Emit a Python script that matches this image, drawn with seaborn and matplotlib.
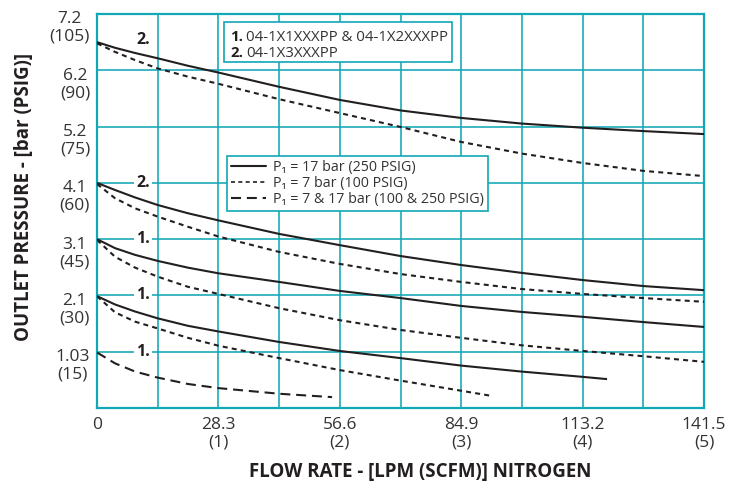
import numpy as np
import pandas as pd
import matplotlib
matplotlib.use("Agg")
import matplotlib.pyplot as plt
import matplotlib.transforms as mtransforms
from matplotlib.lines import Line2D
from matplotlib.patches import Rectangle
import seaborn as sns

# ---------------- data (flow in LPM, outlet pressure in PSIG) ----------------
x_full = [0, 4.2, 8.9, 14.15, 21.2, 28.3, 42.45, 56.6, 70.75, 84.9, 99.05, 113.2, 127.35, 141.5]
top_17 = [97.5, 96.0, 94.6, 93.2, 91.2, 89.4, 85.6, 82.1, 79.3, 77.3, 75.8, 74.7, 73.8, 73.0]
top_7 = [97.2, 94.9, 92.7, 90.5, 88.3, 86.4, 82.3, 78.6, 74.9, 70.9, 67.8, 65.3, 63.2, 61.8]
mid2_17 = [60.0, 58.1, 56.1, 54.1, 51.9, 50.0, 46.4, 43.4, 40.5, 38.1, 36.0, 34.1, 32.5, 31.4]
mid2_7 = [59.7, 55.9, 53.2, 51.0, 48.3, 45.7, 41.6, 38.4, 35.7, 33.6, 31.7, 30.4, 29.3, 28.3]
up1_17 = [45.0, 42.6, 40.8, 39.2, 37.4, 35.9, 33.6, 31.2, 29.3, 27.2, 25.6, 24.3, 22.9, 21.6]
up1_7 = [44.8, 40.3, 37.4, 35.0, 32.3, 30.4, 26.6, 23.4, 20.8, 18.7, 16.7, 15.2, 13.8, 12.3]
x_low17 = [0, 4.2, 8.9, 14.15, 21.2, 28.3, 42.45, 56.6, 70.75, 84.9, 99.05, 113.2, 118.9]
low1_17 = [29.8, 27.6, 25.7, 23.9, 21.9, 20.4, 17.6, 15.2, 13.3, 11.3, 9.7, 8.3, 7.7]
x_low7 = [0, 4.2, 8.9, 14.15, 21.2, 28.3, 42.45, 56.6, 70.75, 84.9, 92.1]
low1_7 = [29.8, 25.5, 23.0, 21.2, 18.7, 16.6, 13.3, 10.1, 7.3, 4.6, 3.2]
x_both = [0, 4.2, 8.9, 14.15, 21.2, 28.3, 42.45, 54.8]
low1_both = [14.8, 11.9, 9.7, 8.1, 6.4, 5.3, 3.8, 2.9]

x_ticks = [0, 28.3, 56.6, 84.9, 113.2, 141.5]
x_ticklabels = ["0", "28.3\n(1)", "56.6\n(2)", "84.9\n(3)", "113.2\n(4)", "141.5\n(5)"]
y_ticks = [15, 30, 45, 60, 75, 90, 105]
y_ticklabels = ["1.03\n(15)", "2.1\n(30)", "3.1\n(45)", "4.1\n(60)",
                "5.2\n(75)", "6.2\n(90)", "7.2\n(105)"]
curve_tags = ["2.", "2.", "1.", "1.", "1."]
curve_tag_y = [98.2, 60, 45, 30, 15]
legend_labels = ["P\u2081 = 17 bar (250 PSIG)", "P\u2081 = 7 bar (100 PSIG)",
                 "P\u2081 = 7 & 17 bar (100 & 250 PSIG)"]
model_nums = ["1.", "2."]
model_names = ["04-1X1XXXPP & 04-1X2XXXPP", "04-1X3XXXPP"]

# ---------------- style ----------------
sns.set_theme(style="white")
plt.rcParams["font.family"] = ["Open Sans", "DejaVu Sans"]
TEAL = "#12a7b6"
INK = "#231f20"
SOLID = None
SHORT = (2.4, 2.0)
LONG = (4.8, 2.8)
LW = 1.5

W, H = 744, 491
fig = plt.figure(figsize=(W / 100, H / 100), dpi=100)
L, R, T, B = 97, 704, 14, 408
ax = fig.add_axes([L / W, (H - B) / H, (R - L) / W, (B - T) / H])

series = [
    (x_full, top_17, SOLID), (x_full, top_7, SHORT),
    (x_full, mid2_17, SOLID), (x_full, mid2_7, SHORT),
    (x_full, up1_17, SOLID), (x_full, up1_7, SHORT),
    (x_low17, low1_17, SOLID), (x_low7, low1_7, SHORT),
    (x_both, low1_both, LONG),
]
for xs, ys, dash in series:
    df = pd.DataFrame({"flow": xs, "psi": ys})
    sns.lineplot(data=df, x="flow", y="psi", ax=ax, color=INK, lw=LW,
                 sort=False, zorder=4)
    line = ax.lines[-1]
    line.set_solid_capstyle("butt")
    line.set_solid_joinstyle("round")
    if dash is not None:
        line.set_dashes(dash)
        line.set_dash_capstyle("butt")

ax.set_xlim(0, 141.5)
ax.set_ylim(0, 105)

# grid
ax.set_xticks(x_ticks)
ax.set_xticks([14.15, 42.45, 70.75, 99.05, 127.35], minor=True)
ax.set_yticks(y_ticks)
ax.grid(True, which="both", axis="x", color=TEAL, lw=1.15, zorder=1)
ax.grid(True, which="major", axis="y", color=TEAL, lw=1.15, zorder=1)
ax.set_axisbelow(True)
for sp in ax.spines.values():
    sp.set_color(TEAL)
    sp.set_linewidth(1.6)
    sp.set_visible(True)
ax.tick_params(which="both", length=0, labelsize=12.5, labelcolor="#333333")
ax.tick_params(axis="x", pad=6.5)
ax.tick_params(axis="y", pad=5)

ax.set_xticklabels(x_ticklabels)
ax.set_yticklabels(y_ticklabels)
for lab in ax.get_xticklabels():
    lab.set_multialignment("center")
    lab.set_linespacing(1.1)
shift = mtransforms.ScaledTranslation(0, 2.5 / 100, fig.dpi_scale_trans)
for lab in ax.get_yticklabels():
    lab.set_va("top")
    lab.set_multialignment("center")
    lab.set_linespacing(1.12)
    lab.set_transform(lab.get_transform() + shift)

# axis titles
ax.set_xlabel("FLOW RATE - [LPM (SCFM)] NITROGEN", fontsize=13.5,
              fontweight="bold", color=INK)
ax.xaxis.set_label_coords(0.532, -0.138)
ax.xaxis.label.set_va("top")
ax.set_ylabel("OUTLET PRESSURE - [bar (PSIG)]", fontsize=13.5,
              fontweight="bold", color=INK)
ax.yaxis.label.set_va("center")
ax.yaxis.set_label_coords(-0.12, 0.535)

# curve tags
for tag, yv in zip(curve_tags, curve_tag_y):
    ax.text(10.7, yv, tag, fontsize=11.5, fontweight="bold", color=INK,
            ha="center", va="center", zorder=6,
            bbox=dict(boxstyle="square,pad=0.12", fc="white", ec="none"))

# model legend box
def fx(px):
    return (px - L) / (R - L)

def fy(py):
    return (B - py) / (B - T)

ax.add_patch(Rectangle((fx(224), fy(62)), fx(452) - fx(224), fy(22) - fy(62),
                       transform=ax.transAxes, fc="white", ec=TEAL, lw=1.2,
                       zorder=7))
for num, name, base in zip(model_nums, model_names, [41, 57]):
    ax.text(fx(230), fy(base), num, transform=ax.transAxes, fontsize=10.8,
            fontweight="bold", color=INK, va="baseline", ha="left", zorder=8)
    ax.text(fx(246), fy(base), name, transform=ax.transAxes, fontsize=10.8,
            color="#333333", va="baseline", ha="left", zorder=8)

# line style legend
handles = [Line2D([], [], color=INK, lw=LW),
           Line2D([], [], color=INK, lw=1.2, dashes=(2.4, 2.0)),
           Line2D([], [], color=INK, lw=LW, dashes=LONG)]
leg = ax.legend(handles, legend_labels, loc="upper left",
                bbox_to_anchor=(fx(227), fy(156)), frameon=True, fancybox=False,
                edgecolor=TEAL, framealpha=1, fontsize=10.3, borderpad=0.3,
                handlelength=2.4, handletextpad=0.5, labelspacing=0.05,
                borderaxespad=0)
leg.get_frame().set_linewidth(1.2)
leg.set_zorder(7)
for t in leg.get_texts():
    t.set_color("#333333")

fig.savefig("out.png", dpi=100, facecolor="white")
